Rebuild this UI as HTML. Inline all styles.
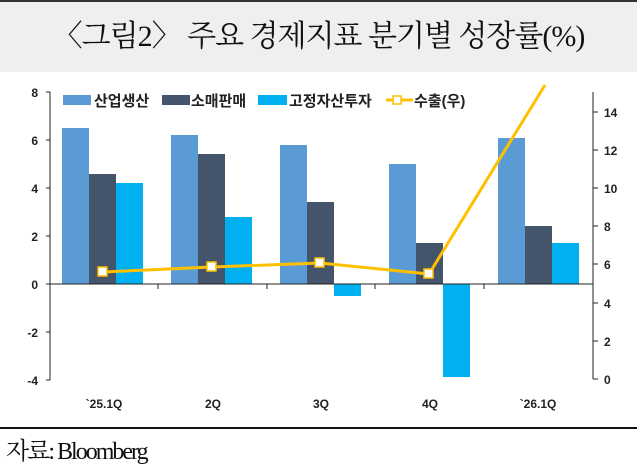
<!DOCTYPE html>
<html><head><meta charset="utf-8"><style>
body{margin:0;background:#fff;width:637px;height:466px;overflow:hidden;position:relative}
.t{position:absolute;left:0;top:0;width:637px;height:72px;background:#efefef;border-top:2px solid #333;box-sizing:border-box;text-align:center;font:30px "Liberation Serif","Noto Serif CJK SC",serif;line-height:70px;color:#111;letter-spacing:-1px}
.s{position:absolute;left:6px;top:431px;font:24px "Liberation Serif","Noto Serif CJK SC",serif;letter-spacing:-2px;color:#111}
</style></head><body>
<div class="t">〈그림2〉 주요 경제지표 분기별 성장률(%)</div>
<svg style="position:absolute;left:0;top:0" width="637" height="466" font-family="Liberation Sans,'Noto Sans CJK KR',sans-serif" font-weight="bold" font-size="12" fill="#222">
<defs><clipPath id="c"><rect x="50" y="82" width="545" height="300"/></clipPath></defs>
<g>
<rect x="62" y="128" width="27" height="156" fill="#5b9bd5"/><rect x="89" y="174" width="27" height="110" fill="#44546a"/><rect x="116" y="183" width="27" height="101" fill="#00b0f0"/>
<rect x="171" y="135" width="27" height="149" fill="#5b9bd5"/><rect x="198" y="154" width="27" height="130" fill="#44546a"/><rect x="225" y="217" width="27" height="67" fill="#00b0f0"/>
<rect x="280" y="145" width="27" height="139" fill="#5b9bd5"/><rect x="307" y="202" width="27" height="82" fill="#44546a"/><rect x="334" y="284" width="27" height="12" fill="#00b0f0"/>
<rect x="389" y="164" width="27" height="120" fill="#5b9bd5"/><rect x="416" y="243" width="27" height="41" fill="#44546a"/><rect x="443" y="284" width="27" height="93" fill="#00b0f0"/>
<rect x="498" y="138" width="27" height="146" fill="#5b9bd5"/><rect x="525" y="226" width="27" height="58" fill="#44546a"/><rect x="552" y="243" width="27" height="41" fill="#00b0f0"/>
</g>
<line x1="50" y1="92" x2="50" y2="380" stroke="#222"/>
<line x1="50" y1="284" x2="593" y2="284" stroke="#222"/>
<g stroke="#222"><line x1="46" y1="92" x2="50" y2="92"/><line x1="46" y1="140" x2="50" y2="140"/><line x1="46" y1="188" x2="50" y2="188"/><line x1="46" y1="236" x2="50" y2="236"/><line x1="46" y1="284" x2="50" y2="284"/><line x1="46" y1="332" x2="50" y2="332"/><line x1="46" y1="380" x2="50" y2="380"/>
<line x1="158" y1="284" x2="158" y2="289"/><line x1="267" y1="284" x2="267" y2="289"/><line x1="375" y1="284" x2="375" y2="289"/><line x1="484" y1="284" x2="484" y2="289"/>
<line x1="593" y1="92" x2="593" y2="379"/>
<line x1="593" y1="112" x2="598" y2="112"/><line x1="593" y1="150" x2="598" y2="150"/><line x1="593" y1="188" x2="598" y2="188"/><line x1="593" y1="226" x2="598" y2="226"/><line x1="593" y1="264" x2="598" y2="264"/><line x1="593" y1="303" x2="598" y2="303"/><line x1="593" y1="341" x2="598" y2="341"/><line x1="593" y1="379" x2="598" y2="379"/></g>
<g text-anchor="end"><text x="38" y="97">8</text><text x="38" y="145">6</text><text x="38" y="193">4</text><text x="38" y="241">2</text><text x="38" y="289">0</text><text x="38" y="337">-2</text><text x="38" y="385">-4</text></g>
<g><text x="604" y="117">14</text><text x="604" y="155">12</text><text x="604" y="193">10</text><text x="604" y="231">8</text><text x="604" y="269">6</text><text x="604" y="308">4</text><text x="604" y="346">2</text><text x="604" y="384">0</text></g>
<g text-anchor="middle"><text x="104" y="408">`25.1Q</text><text x="213" y="408">2Q</text><text x="321" y="408">3Q</text><text x="430" y="408">4Q</text><text x="538" y="408">`26.1Q</text></g>
<polyline clip-path="url(#c)" points="103,272 212,267 320,263 429,274 545,85" fill="none" stroke="#ffc000" stroke-width="3"/>
<g fill="#fff" stroke="#ffc000" stroke-width="1.5"><rect x="98" y="267" width="9" height="9"/><rect x="207" y="262" width="9" height="9"/><rect x="315" y="258" width="9" height="9"/><rect x="424" y="269" width="9" height="9"/></g>
<g font-size="15">
<rect x="63" y="95" width="28" height="10" fill="#5b9bd5"/><text x="94" y="106">산업생산</text>
<rect x="162" y="95" width="28" height="10" fill="#44546a"/><text x="191" y="106">소매판매</text>
<rect x="258" y="95" width="29" height="10" fill="#00b0f0"/><text x="289" y="106">고정자산투자</text>
<line x1="386" y1="100" x2="413" y2="100" stroke="#ffc000" stroke-width="3"/><rect x="393" y="96" width="8" height="8" fill="#fff" stroke="#ffc000" stroke-width="1.5"/><text x="414" y="106">수출(우)</text>
</g>
<line x1="0" y1="428" x2="637" y2="428" stroke="#111" stroke-width="2"/>
</svg>
<div class="s">자료: Bloomberg</div>
</body></html>
